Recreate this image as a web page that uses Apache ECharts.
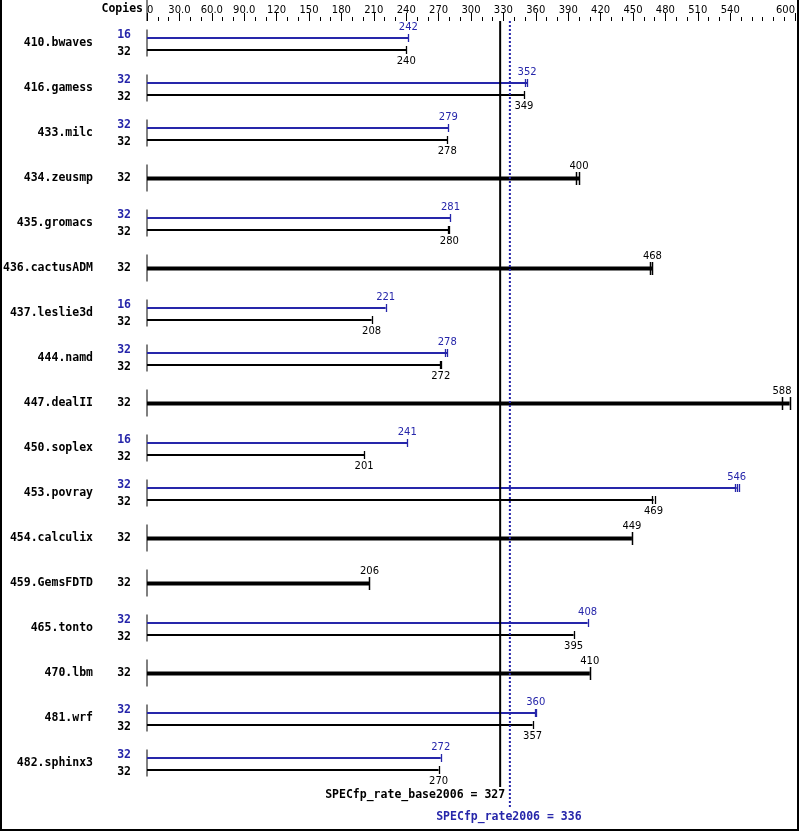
<!DOCTYPE html>
<html><head><meta charset="utf-8">
<script src="https://cdn.jsdelivr.net/npm/echarts@6/dist/echarts.min.js"></script>
<style>html,body{margin:0;padding:0;background:#fff}#c{width:799px;height:831px}</style>
</head><body><div id="c"></div>
<script>
const benchmarks = ['410.bwaves','416.gamess','433.milc','434.zeusmp','435.gromacs','436.cactusADM','437.leslie3d','444.namd','447.dealII','450.soplex','453.povray','454.calculix','459.GemsFDTD','465.tonto','470.lbm','481.wrf','482.sphinx3'];
const peakCopies = [16,32,32,null,32,null,16,32,null,16,32,null,null,32,null,32,32];
const peakValues = [242,352,279,null,281,null,221,278,null,241,546,null,null,408,null,360,272];
const baseCopies = [32,32,32,32,32,32,32,32,32,32,32,32,32,32,32,32,32];
const baseValues = [240,349,278,400,280,468,208,272,588,201,469,449,206,395,410,357,270];
const peakRuns = [[242],[350,352],[279],[],[281],[],[221],[276,278],[],[241],[544,546,548],[],[],[408],[],[359,360],[272]];
const baseRuns = [[240],[349],[278],[397,400],[279,280],[466,468],[208],[271,272],[588,595],[201],[468,470],[449],[206],[395],[410],[357],[270]];
const majorTicks = [0,30,60,90,120,150,180,210,240,270,300,330,360,390,420,450,480,510,540,600];
const tickLabels = ['0','30.0','60.0','90.0','120','150','180','210','240','270','300','330','360','390','420','450','480','510','540','600'];
const baseScore = 327;
const peakScore = 336;
const baseLabel = 'SPECfp_rate_base2006 = 327';
const peakLabel = 'SPECfp_rate2006 = 336';

const minorTicks = [];
for (let v = 0; v <= 600; v += 10) if (majorTicks.indexOf(v) < 0) minorTicks.push(v);

const BLUE = '#2626aa';
const BOLD = 'bold 11.5px "DejaVu Sans Mono"';
const VAL = '10px "DejaVu Sans"';

function crisp(x) { return Math.round(x) + 0.5; }

function renderRow(params, api) {
  const i = params.dataIndex;
  const p0 = api.coord([0, i]);
  const x0 = p0[0], yc = p0[1];
  const ch = [];
  ch.push({type:'line', shape:{x1:x0, y1:yc-14, x2:x0, y2:yc+13}, style:{stroke:'#000', lineWidth:1}});
  ch.push({type:'text', x:x0-54, y:yc, style:{text:benchmarks[i], font:BOLD, fill:'#000', align:'right', verticalAlign:'middle'}});
  const hasPeak = peakValues[i] != null;
  if (hasPeak) {
    const yp = yc - 5.5, yb = yc + 6.5;
    const xp = api.coord([peakValues[i], i])[0];
    const xb = api.coord([baseValues[i], i])[0];
    ch.push({type:'text', x:x0-16, y:yc-8, style:{text:String(peakCopies[i]), font:BOLD, fill:BLUE, align:'right', verticalAlign:'middle'}});
    ch.push({type:'text', x:x0-16, y:yc+8.5, style:{text:String(baseCopies[i]), font:BOLD, fill:'#000', align:'right', verticalAlign:'middle'}});
    ch.push({type:'line', shape:{x1:x0, y1:yp, x2:xp, y2:yp}, style:{stroke:BLUE, lineWidth:2}});
    ch.push({type:'line', shape:{x1:x0, y1:yb, x2:xb, y2:yb}, style:{stroke:'#000', lineWidth:2}});
    peakRuns[i].forEach(r => {
      const xr = crisp(api.coord([r, i])[0]);
      ch.push({type:'line', shape:{x1:xr, y1:yp-4, x2:xr, y2:yp+4}, style:{stroke:BLUE, lineWidth:1.3}});
    });
    baseRuns[i].forEach(r => {
      const xr = crisp(api.coord([r, i])[0]);
      ch.push({type:'line', shape:{x1:xr, y1:yb-4, x2:xr, y2:yb+4}, style:{stroke:'#000', lineWidth:1.3}});
    });
    ch.push({type:'text', x:xp, y:yp-11, style:{text:String(peakValues[i]), font:VAL, fill:BLUE, align:'center', verticalAlign:'middle'}});
    ch.push({type:'text', x:xb, y:yb+11, style:{text:String(baseValues[i]), font:VAL, fill:'#000', align:'center', verticalAlign:'middle'}});
  } else {
    const xb = api.coord([baseValues[i], i])[0];
    const xEnd = api.coord([Math.max.apply(null, baseRuns[i].concat([baseValues[i]])), i])[0];
    ch.push({type:'text', x:x0-16, y:yc, style:{text:String(baseCopies[i]), font:BOLD, fill:'#000', align:'right', verticalAlign:'middle'}});
    ch.push({type:'line', shape:{x1:x0, y1:yc, x2:xEnd, y2:yc}, style:{stroke:'#000', lineWidth:4}});
    baseRuns[i].forEach(r => {
      const xr = crisp(api.coord([r, i])[0]);
      ch.push({type:'line', shape:{x1:xr, y1:yc-6.5, x2:xr, y2:yc+6.5}, style:{stroke:'#000', lineWidth:1.5}});
    });
    ch.push({type:'text', x:xb, y:yc-12, style:{text:String(baseValues[i]), font:VAL, fill:'#000', align:'center', verticalAlign:'middle'}});
  }
  return {type:'group', children:ch};
}

function renderRef(params, api) {
  const cs = params.coordSys;
  const top = cs.y, bottom = cs.y + cs.height;
  const xb = api.coord([baseScore, 0])[0];
  const xp = api.coord([peakScore, 0])[0];
  const x0 = api.coord([0, 0])[0];
  return {type:'group', children:[
    {type:'line', shape:{x1:x0, y1:0, x2:x0, y2:top}, style:{stroke:'#000', lineWidth:1}},
    {type:'line', shape:{x1:xb, y1:top, x2:xb, y2:bottom+1}, style:{stroke:'#000', lineWidth:2}},
    {type:'line', shape:{x1:xp, y1:top, x2:xp, y2:bottom+22}, style:{stroke:BLUE, lineWidth:2, lineDash:[2,2]}},
    {type:'text', x:xb+5, y:bottom+9, style:{text:baseLabel, font:BOLD, fill:'#000', align:'right', verticalAlign:'middle'}},
    {type:'text', x:xp-1, y:bottom+31, style:{text:peakLabel, font:BOLD, fill:BLUE, align:'center', verticalAlign:'middle'}}
  ]};
}

const chart = echarts.init(document.getElementById('c'), null, {renderer:'canvas'});
chart.setOption({
  animation:false,
  backgroundColor:'#fff',
  grid:{left:147, right:4, top:21, height:765, containLabel:false},
  xAxis:[{
    type:'value', position:'top', min:0, max:600, offset:0,
    axisLine:{show:false}, splitLine:{show:false},
    axisTick:{show:true, customValues:majorTicks, length:8, lineStyle:{color:'#000', width:1}},
    axisLabel:{show:true, customValues:majorTicks, margin:6, color:'#000', fontFamily:'DejaVu Sans', fontSize:10,
      alignMinLabel:'left', alignMaxLabel:'right',
      formatter:v => { const k = majorTicks.indexOf(v); return k >= 0 ? tickLabels[k] : ''; }}
  },{
    type:'value', position:'top', min:0, max:600, offset:0, gridIndex:0,
    axisLine:{show:false}, splitLine:{show:false}, axisLabel:{show:false},
    axisTick:{show:true, customValues:minorTicks, length:4, lineStyle:{color:'#000', width:1}}
  }],
  yAxis:{type:'category', inverse:true, data:benchmarks, show:false},
  graphic:[
    {type:'text', x:143, y:9, style:{text:'Copies', font:BOLD, fill:'#000', align:'right', verticalAlign:'middle'}},
    {type:'polyline', shape:{points:[[1,0],[1,830],[798,830],[798,0]]}, style:{stroke:'#000', lineWidth:2, fill:null}}
  ],
  series:[
    {type:'custom', xAxisIndex:0, yAxisIndex:0, clip:false, renderItem:renderRow,
     data:baseValues.map((v,i) => [v, i]), encode:{x:0, y:1}, z:2},
    {type:'custom', xAxisIndex:0, yAxisIndex:0, clip:false, renderItem:renderRef,
     data:[[baseScore, 0]], encode:{x:0, y:1}, z:3}
  ]
});
</script></body></html>
